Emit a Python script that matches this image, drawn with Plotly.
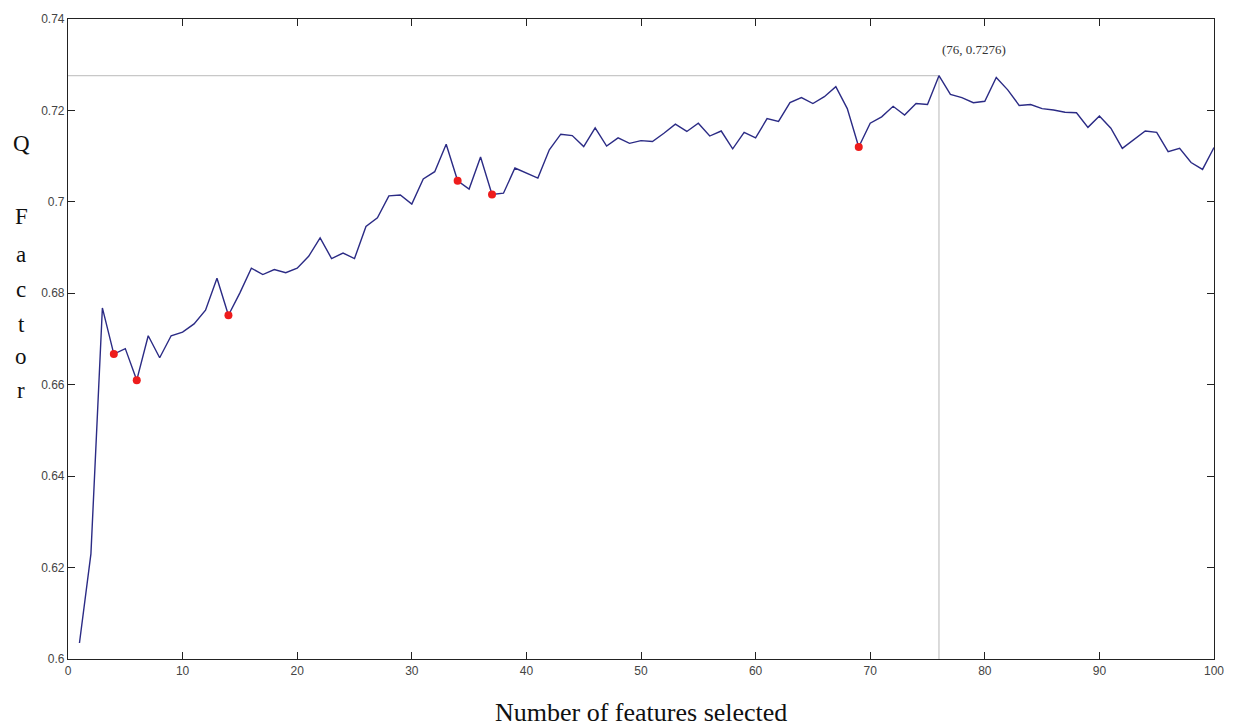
import plotly.graph_objects as go

features = list(range(1, 101))
q_factor = [
    0.6035, 0.6230, 0.6768, 0.6667, 0.6679, 0.6610, 0.6707, 0.6659, 0.6707, 0.6715,
    0.6733, 0.6763, 0.6833, 0.6752, 0.6801, 0.6855, 0.6841, 0.6852, 0.6845, 0.6855,
    0.6881, 0.6921, 0.6876, 0.6888, 0.6876, 0.6946, 0.6965, 0.7013, 0.7015, 0.6995,
    0.7050, 0.7066, 0.7126, 0.7046, 0.7028, 0.7098, 0.7016, 0.7019, 0.7074, 0.7063,
    0.7052, 0.7114, 0.7148, 0.7145, 0.7121, 0.7162, 0.7122, 0.7140, 0.7128, 0.7134,
    0.7132, 0.7150, 0.7170, 0.7154, 0.7172, 0.7144, 0.7155, 0.7116, 0.7152, 0.7140,
    0.7182, 0.7176, 0.7217, 0.7228, 0.7215, 0.7230, 0.7252, 0.7204, 0.7120, 0.7172,
    0.7186, 0.7209, 0.7190, 0.7215, 0.7213, 0.7276, 0.7235, 0.7228, 0.7217, 0.7220,
    0.7272, 0.7245, 0.7211, 0.7213, 0.7204, 0.7201, 0.7196, 0.7195, 0.7163, 0.7188,
    0.7161, 0.7117, 0.7137, 0.7155, 0.7152, 0.7110, 0.7117, 0.7086, 0.7071, 0.7119,
]
marked_features = [4, 6, 14, 34, 37, 69]
best_feature = 76
best_value = 0.7276
x_ticks = [0, 10, 20, 30, 40, 50, 60, 70, 80, 90, 100]
y_ticks = [0.6, 0.62, 0.64, 0.66, 0.68, 0.7, 0.72, 0.74]
y_tick_text = ["0.6", "0.62", "0.64", "0.66", "0.68", "0.7", "0.72", "0.74"]
y_title_letters = ["Q", "F", "a", "c", "t", "o", "r"]

marked_values = [q_factor[features.index(f)] for f in marked_features]

fig = go.Figure()
# reference lines at best point
fig.add_trace(go.Scatter(x=[0, best_feature, best_feature], y=[best_value, best_value, 0.6],
                         mode="lines", line=dict(color="#c8c8c8", width=1.3),
                         hoverinfo="skip", showlegend=False))
fig.add_trace(go.Scatter(x=features, y=q_factor, mode="lines",
                         line=dict(color="#2b2b85", width=1.4), showlegend=False))
fig.add_trace(go.Scatter(x=marked_features, y=marked_values, mode="markers",
                         marker=dict(color="#ee1c1c", size=8), showlegend=False))

fig.add_annotation(x=best_feature + 3.1, y=best_value + 0.0058, text="(76, 0.7276)",
                   showarrow=False, font=dict(family="Liberation Serif", size=13, color="#333"))

# vertical letter-by-letter y title
plot_top, plot_bottom = 17, 659
letter_pixels = [142, 215, 253, 288, 323, 356, 390]
for letter, py in zip(y_title_letters, letter_pixels):
    fig.add_annotation(xref="paper", yref="paper", x=-0.041, y=(plot_bottom - py) / (plot_bottom - plot_top),
                       text=letter, showarrow=False, xanchor="center", yanchor="middle",
                       font=dict(family="Liberation Serif", size=23, color="#111"))

fig.add_annotation(xref="paper", yref="paper", x=0.5, y=-(713 - plot_bottom) / (plot_bottom - plot_top),
                   yanchor="middle", text="Number of features selected", showarrow=False,
                   font=dict(family="Liberation Serif", size=26, color="#111"))

axis_common = dict(showgrid=False, zeroline=False, showline=True, linecolor="#222", linewidth=1.2,
                   mirror="ticks", ticks="inside", ticklen=7, tickcolor="#222",
                   tickfont=dict(family="Liberation Sans", size=12, color="#444"))
fig.update_xaxes(range=[0, 100], tickvals=x_ticks, **axis_common)
fig.update_yaxes(range=[0.6, 0.74], tickvals=y_ticks, ticktext=y_tick_text, **axis_common)

fig.update_layout(width=1236, height=727, margin=dict(l=68, r=21, t=17, b=68),
                  paper_bgcolor="white", plot_bgcolor="white")
fig.write_html("out.html", config={"displayModeBar": False},
               post_script="document.body.style.margin='0';document.body.style.overflow='hidden';")
